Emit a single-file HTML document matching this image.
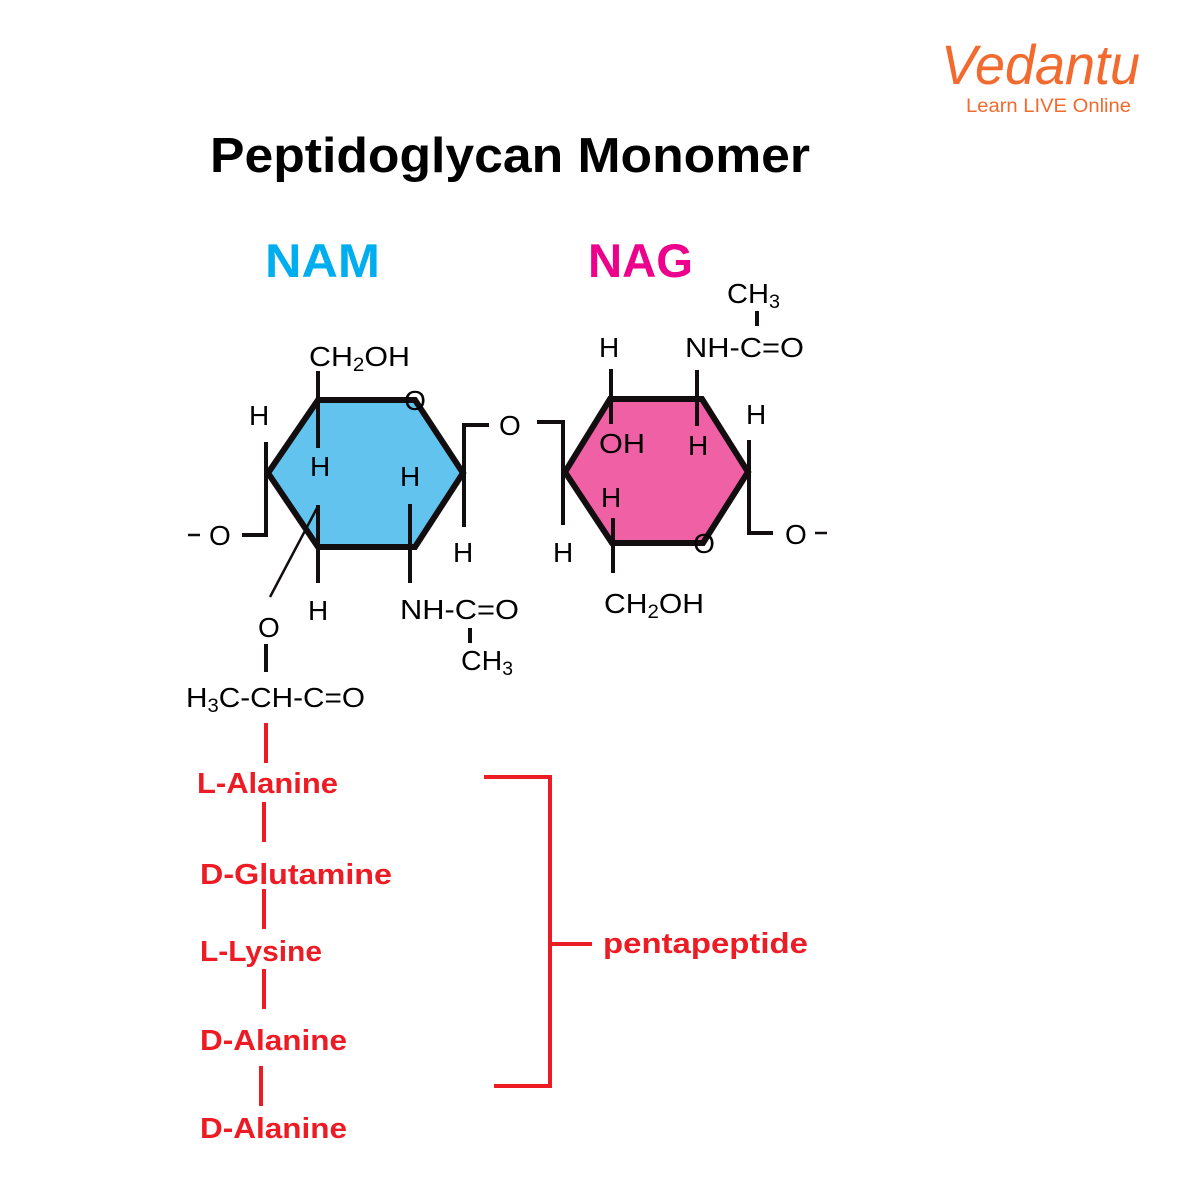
<!DOCTYPE html>
<html>
<head>
<meta charset="utf-8">
<style>
  html,body{margin:0;padding:0;background:#fff;}
  svg{display:block;}
  text{font-family:"Liberation Sans", Arial, sans-serif;}
</style>
</head>
<body>
<svg width="1185" height="1195" viewBox="0 0 1185 1195" xmlns="http://www.w3.org/2000/svg">
  <rect x="0" y="0" width="1185" height="1195" fill="#ffffff"/>

  <!-- Logo -->
  <text x="941" y="84" font-size="56" font-style="italic" fill="#f26a2e" textLength="199" lengthAdjust="spacingAndGlyphs">Vedantu</text>
  <text x="966" y="112" font-size="19" fill="#f26a2e" textLength="165" lengthAdjust="spacingAndGlyphs">Learn LIVE Online</text>

  <!-- Title -->
  <text x="210" y="172" font-size="49" font-weight="bold" fill="#000" textLength="600" lengthAdjust="spacingAndGlyphs">Peptidoglycan Monomer</text>

  <text x="265" y="277" font-size="47" font-weight="bold" fill="#00aeef" textLength="115" lengthAdjust="spacingAndGlyphs">NAM</text>
  <text x="588" y="277" font-size="47" font-weight="bold" fill="#ec008c" textLength="105" lengthAdjust="spacingAndGlyphs">NAG</text>

  <!-- NAM hexagon -->
  <polygon points="318,400 415,400 463,473 415,547 318,547 268,473" fill="#62c3ee" stroke="#120d0e" stroke-width="6" stroke-linejoin="miter"/>
  <!-- NAG hexagon -->
  <polygon points="610,399 702,399 748,472 703,543 612,543 565,472" fill="#f060a5" stroke="#120d0e" stroke-width="6" stroke-linejoin="miter"/>

  <!-- black bonds -->
  <g stroke="#120d0e" stroke-width="4" fill="none" stroke-linecap="butt">
    <line x1="318" y1="371" x2="318" y2="448"/>
    <polyline points="266,442 266,535 242,535"/>
    <polyline points="489,425 464,425 464,527"/>
    <line x1="318" y1="505" x2="318" y2="583"/>
    <line x1="410" y1="504" x2="410" y2="583"/>
    <line x1="470" y1="628" x2="470" y2="643"/>
    <line x1="266" y1="644" x2="266" y2="672"/>

    <line x1="757" y1="311" x2="757" y2="326"/>
    <line x1="611" y1="369" x2="611" y2="424"/>
    <line x1="697" y1="370" x2="697" y2="426"/>
    <polyline points="537,422 563,422 563,525"/>
    <line x1="613" y1="518" x2="613" y2="573"/>
    <polyline points="749,440 749,533 773,533"/>
  </g>
  <g stroke="#120d0e" stroke-width="2.5" fill="none">
    <line x1="317" y1="508" x2="270" y2="597"/>
    <line x1="188" y1="535" x2="200" y2="535"/>
    <line x1="815" y1="533" x2="827" y2="533"/>
  </g>

  <!-- NAM labels -->
  <g font-size="28" fill="#000">
    <text x="309" y="366" textLength="101" lengthAdjust="spacingAndGlyphs">CH<tspan font-size="19" dy="5">2</tspan><tspan dy="-5">OH</tspan></text>
    <text x="415" y="410" text-anchor="middle">O</text>
    <text x="249" y="425">H</text>
    <text x="310" y="476">H</text>
    <text x="400" y="486">H</text>
    <text x="209" y="545">O</text>
    <text x="499" y="435">O</text>
    <text x="453" y="562">H</text>
    <text x="308" y="620">H</text>
    <text x="400" y="619" textLength="119" lengthAdjust="spacingAndGlyphs">NH-C=O</text>
    <text x="461" y="670" textLength="52" lengthAdjust="spacingAndGlyphs">CH<tspan font-size="19" dy="5">3</tspan></text>
    <text x="258" y="637">O</text>
    <text x="186" y="707" textLength="179" lengthAdjust="spacingAndGlyphs">H<tspan font-size="19" dy="5">3</tspan><tspan dy="-5">C-CH-C=O</tspan></text>
  </g>

  <!-- NAG labels -->
  <g font-size="28" fill="#000">
    <text x="727" y="303" textLength="53" lengthAdjust="spacingAndGlyphs">CH<tspan font-size="19" dy="5">3</tspan></text>
    <text x="599" y="357">H</text>
    <text x="685" y="357" textLength="119" lengthAdjust="spacingAndGlyphs">NH-C=O</text>
    <text x="599" y="453" textLength="46" lengthAdjust="spacingAndGlyphs">OH</text>
    <text x="688" y="455">H</text>
    <text x="746" y="424">H</text>
    <text x="601" y="507">H</text>
    <text x="553" y="562">H</text>
    <text x="604" y="613" textLength="100" lengthAdjust="spacingAndGlyphs">CH<tspan font-size="19" dy="5">2</tspan><tspan dy="-5">OH</tspan></text>
    <text x="785" y="544">O</text>
    <text x="704" y="553" text-anchor="middle">O</text>
  </g>

  <!-- red pentapeptide -->
  <g stroke="#ed1c24" stroke-width="4" fill="none">
    <line x1="266" y1="723" x2="266" y2="763"/>
    <line x1="264" y1="802" x2="264" y2="842"/>
    <line x1="264" y1="889" x2="264" y2="929"/>
    <line x1="264" y1="969" x2="264" y2="1009"/>
    <line x1="261" y1="1066" x2="261" y2="1106"/>
    <polyline points="484,777 550,777 550,1086 494,1086"/>
    <line x1="552" y1="944" x2="592" y2="944"/>
  </g>
  <g font-size="29" font-weight="bold" fill="#ed1c24">
    <text x="197" y="793" textLength="141" lengthAdjust="spacingAndGlyphs">L-Alanine</text>
    <text x="200" y="884" textLength="192" lengthAdjust="spacingAndGlyphs">D-Glutamine</text>
    <text x="200" y="961" textLength="122" lengthAdjust="spacingAndGlyphs">L-Lysine</text>
    <text x="200" y="1050" textLength="147" lengthAdjust="spacingAndGlyphs">D-Alanine</text>
    <text x="200" y="1138" textLength="147" lengthAdjust="spacingAndGlyphs">D-Alanine</text>
    <text x="603" y="953" textLength="205" lengthAdjust="spacingAndGlyphs">pentapeptide</text>
  </g>
</svg>
</body>
</html>
